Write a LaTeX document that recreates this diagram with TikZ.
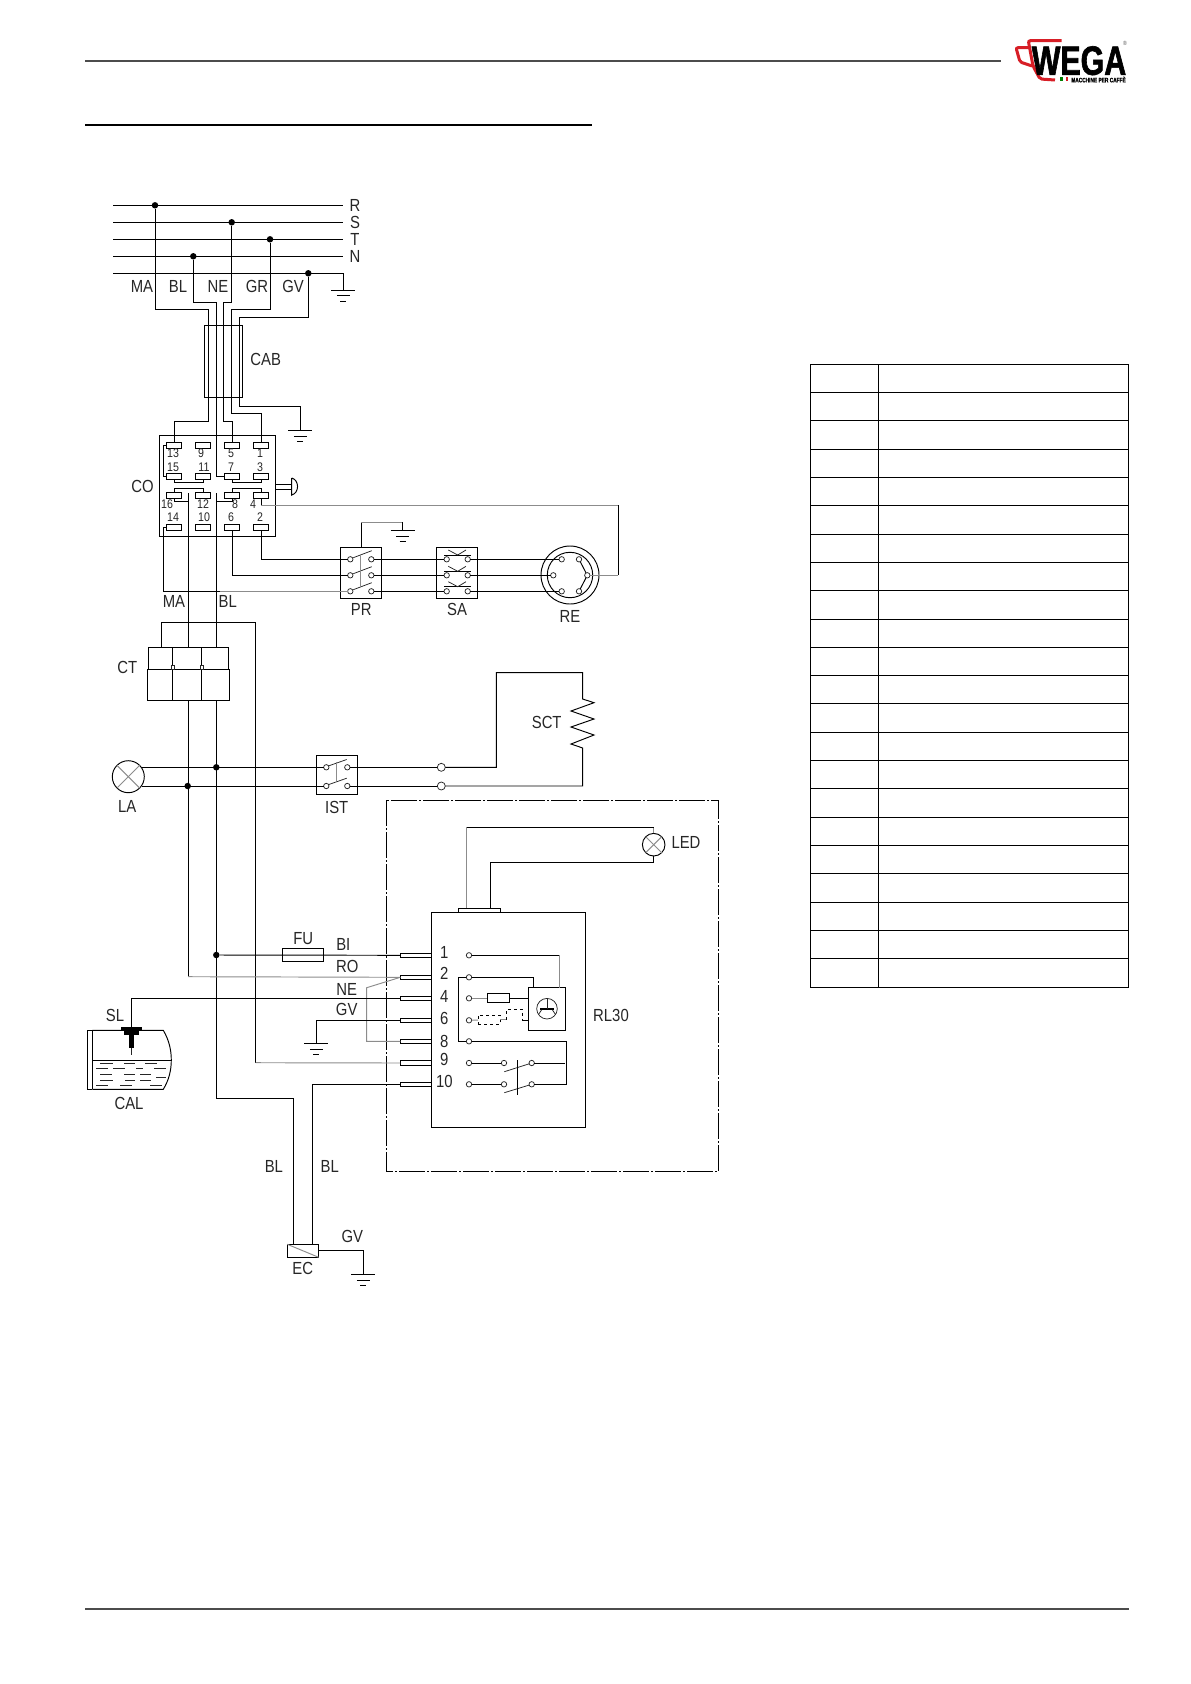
\documentclass[tikz,border=0pt]{standalone}
\usepackage{fontspec}
\setmainfont[FakeStretch=0.85]{Liberation Sans}
\newfontfamily\logofont[FakeStretch=0.74,FakeBold=1.5]{Liberation Sans}
\usetikzlibrary{calc}
\definecolor{redcup}{RGB}{215,30,38}
\tikzset{
    wire/.style={line width=0.95pt, black},
    fade/.style={line width=0.95pt, black!45},
    thin wire/.style={line width=0.75pt, black!85},
    lab/.style={inner sep=0, text=black!85, font=\fontsize{17.5}{17.5}\selectfont},
    pinnum/.style={inner sep=0, text=black!85, font=\fontsize{12.5}{12.5}\selectfont},
    box/.style={draw, wire, rectangle, inner sep=0, outer sep=0},
    pinbox/.style={box, minimum width=15pt, minimum height=6pt},
    tabbox/.style={box, minimum width=31pt, minimum height=4.5pt},
    term/.style={circle, draw, thin wire, inner sep=0, outer sep=0, minimum size=5.4pt},
    lamp/.style={circle, draw, wire, inner sep=0, outer sep=0},
    junction/.style={circle, fill=black, inner sep=0, minimum size=6.5pt},
    rule/.style={line width=1.6pt, black!70},
    panel/.style={line width=0.95pt, black, dash pattern=on 26pt off 2pt on 2pt off 2pt}
}
\begin{document}
\begin{tikzpicture}[x=1pt,y=-1pt]
    \useasboundingbox (0,0) rectangle (1191,1684);

    % Page rules
    \draw[rule] (85,61.2) -- (1001,61.2);
    \draw[rule, black, line width=1.8pt] (85,124.6) -- (591.8,124.6);
    \draw[rule] (85,1609) -- (1128.7,1609);

    % Logo
    \draw[redcup, line width=3pt, rounded corners=2pt] (1061.7,40.7) -- (1028.3,40.7) -- (1033,66) -- (1040,79) -- (1055,80);
    \draw[redcup, line width=3pt, rounded corners=2pt] (1029,47.7) -- (1016,47.7) -- (1020,62) -- (1032,66);
    \node[inner sep=0, text depth=0pt, font=\logofont\bfseries\fontsize{41}{41}\selectfont] (wega) at (1079,60.5) {WEGA};
    \node[inner sep=0, font=\logofont\bfseries\fontsize{6.5}{7}\selectfont] (macchine) at (1098.5,79.5) {MACCHINE PER CAFFÈ};
    \node[inner sep=0, text=black!70, font=\fontsize{6}{6}\selectfont] (regmark) at (1125,43.5) {®};
    \fill[green!50!black] (1059.5,77) rectangle (1062.5,80.5);
    \fill[redcup] (1065.5,77) rectangle (1068,80.5);

    % Table
    \draw[wire] (810.3,364.3) rectangle (1128.7,987);
    \draw[wire] (878.3,364.3) -- (878.3,987);
    \foreach \r in {1,...,21}
        \draw[wire] (810.3,364.3+\r*28.3) -- (1128.7,364.3+\r*28.3);

    % Bus lines with their junctions
    \node[junction] (dotR) at (155,205.3) {};
    \node[junction] (dotS) at (231.7,222.3) {};
    \node[junction] (dotT) at (270,239.3) {};
    \node[junction] (dotN) at (193.3,256.3) {};
    \node[junction] (dotG) at (308.3,273.3) {};
    \foreach \name/\y in {R/205.3,S/222.3,T/239.3,N/256.3} {
        \draw[wire] (113,\y) -- (343,\y);
        \node[lab] (lab\name) at (355,\y) {\name};
    }
    \coordinate (gndA) at (343.3,290);
    \draw[wire] (113,273.3) -- (343.3,273.3) -- (gndA);
    \node[lab] (labMA) at (142,286.7) {MA};
    \node[lab] (labBL) at (178,286.7) {BL};
    \node[lab] (labNE) at (218,286.7) {NE};
    \node[lab] (labGR) at (257,286.7) {GR};
    \node[lab] (labGV) at (293,286.7) {GV};

    % Cable gland
    \node[box, minimum width=38.4pt, minimum height=72.4pt] (cab) at (223.5,361.5) {};
    \node[lab] (labCAB) at (265.7,359) {CAB};

    % Contactor block
    \node[box, minimum width=116.4pt, minimum height=101pt] (co) at (217.5,485.8) {};
    \node[lab] (labCO) at (142.5,486) {CO};
    \foreach \n/\x/\y in {13/174/445.3,9/203/445.3,5/232/445.3,1/261/445.3,
                          15/174/476.3,11/203/476.3,7/232/476.3,3/261/476.3,
                          16/174/495.3,12/203/495.3,8/232/495.3,4/261/495.3,
                          14/174/527.3,10/203/527.3,6/232/527.3,2/261/527.3}
        \node[pinbox] (p\n) at (\x,\y) {};
    \foreach \n/\x/\y in {13/173/453.3,9/201/453.3,5/231/453.3,1/260/453.3,
                          15/173/467,11/204/467,7/231/467,3/260/467,
                          16/167/504,12/203/504,8/235/504,4/253/504,
                          14/173/517,10/204/517,6/231/517,2/260/517}
        \node[pinnum] (num\n) at (\x,\y) {\n};

    % Links inside the block
    \draw[wire] (p13.west) -| (163.3,476.3) -- (p15.west);
    \draw[wire] (p15.south) -- ++(0,3.5) -| (p11.south);
    \draw[wire] (p7.south) -- ++(0,3.5) -| (p3.south);
    \draw[wire] (p16.north) -- ++(0,-3.5) -| (p12.north);
    \draw[wire] (p8.north) -- ++(0,-3.5) -| (p4.north);

    % Push button on the block
    \draw[wire] (co.east|-0,484.7) -- (291.7,484.7);
    \draw[wire] (co.east|-0,489.3) -- (291.7,489.3);
    \draw[wire] (291.7,478) -- (291.7,495) .. controls (299.5,493) and (299.5,480) .. (291.7,478);

    % Mains wires into the block
    \draw[wire] (dotR) |- (208.7,309.3) |- (174,421) -- (p13.north);
    \draw[wire] (dotN) |- (216.7,302.3) |- (p7.west);
    \draw[wire] (dotS) |- (223.3,302.3) |- (232,421) -- (p5.north);
    \draw[wire] (dotT) |- (231.3,309.3) |- (261,413.3) -- (p1.north);
    \coordinate (gndB) at (300.3,430.3);
    \draw[wire] (dotG) |- (239,317) |- (300.3,406.3) -- (gndB);

    % Pressure switch, selector and heater plug
    \node[box, minimum width=41.4pt, minimum height=51.4pt] (pr) at (361,573) {};
    \node[box, minimum width=41.4pt, minimum height=51.4pt] (sa) at (457,573) {};
    \node[lab] (labPR) at (361.3,609) {PR};
    \node[lab] (labSA) at (457,609) {SA};
    \foreach \n/\y in {1/559.3,2/575.3,3/591.3} {
        \node[term] (prL\n) at (350.3,\y) {};
        \node[term] (prR\n) at (371.3,\y) {};
        \node[term] (saL\n) at (446.7,\y) {};
        \node[term] (saR\n) at (467.7,\y) {};
        \draw[thin wire] (353.3,\y-1.6) -- (371.7,\y-8.6);
        \draw[wire] (prR\n) -- (saL\n);
    }
    \foreach \y in {555,571.3,586.7} {
        \draw[wire] (444,\y) -- (470.7,\y);
        \draw[thin wire] (448.3,\y-5) -- (457.7,\y) -- (466,\y-5);
    }
    \draw[fade] (360.7,555) -- (360.7,586.7);
    \coordinate (gndC) at (402.7,530.3);
    \draw[wire] (361.3,547.3) -- (361.3,522.3);
    \draw[fade] (361.3,522.3) -- (402.7,522.3);
    \draw[wire] (402.7,522.3) -- (gndC);

    \node[lamp, minimum size=58pt] (re) at (570,575) {};
    \draw[wire] (re) circle[radius=22.7pt];
    \node[lab] (labRE) at (570,616) {RE};
    \node[term] (reA) at (561.7,559.3) {};
    \node[term] (reB) at (579,559.3) {};
    \node[term] (reC) at (553.3,575.3) {};
    \node[term] (reD) at (587.3,575.3) {};
    \node[term] (reE) at (561.7,591.3) {};
    \node[term] (reF) at (579,591.3) {};
    \draw[wire] (reB) -- (reD) -- (reF);
    \draw[wire] (saR1) -- (reA);
    \draw[wire] (saR2) -- (reC);
    \draw[wire] (saR3) -- (reE);

    % Wires leaving the block
    \draw[wire] (p2.south) |- (prL1);
    \draw[wire] (p6.south) |- (prL2);
    \coordinate (maEnd) at (220,591.3);
    \draw[wire] (p14.west) -| (163.3,591.3) -- (maEnd);
    \draw[fade] (maEnd) -- (prL3);
    \coordinate (neA) at (261,505);
    \coordinate (neB) at (618.3,505);
    \coordinate (neC) at (618.3,575.3);
    \draw[wire] (p4.south) -- (neA);
    \draw[fade] (neA) -- (neB);
    \draw[wire] (neB) -- (neC);
    \draw[fade] (neC) -- (reD);
    \node[lab] (labMAb) at (174,601) {MA};
    \node[lab] (labBLb) at (227.7,601) {BL};
    \draw[wire] (p16.south) |- (188.3,501.3);
    \draw[wire] (p8.south) |- (216.3,501.3);

    % Power contactor
    \node[box, minimum width=80pt, minimum height=22pt] (ctTop) at (188.3,658.3) {};
    \node[box, minimum width=82pt, minimum height=31pt] (ctLow) at (188.3,684.8) {};
    \node[lab] (labCT) at (127.3,667.7) {CT};
    \draw[wire] (172.3,647.3) -- (172.3,700.3);
    \draw[wire] (201.3,647.3) -- (201.3,700.3);
    \draw[thin wire, fill=white] (171,665.3) rectangle (174.5,669);
    \draw[thin wire, fill=white] (200,665.3) rectangle (203.5,669);
    \draw[wire] (188.3,493.3) -- (188.3,647.3);
    \draw[wire] (216.3,493.3) -- (216.3,647.3);
    \coordinate (feedA) at (161.7,647.3);
    \coordinate (feedB) at (255.5,1062.7);
    \draw[wire] (feedA) |- (255.5,622.3) -- (feedB);

    % Lamp, switch and boiler element
    \node[lamp, minimum size=32pt] (la) at (128.3,776.7) {};
    \draw[fade] (la.north west) -- (la.south east);
    \draw[fade] (la.north east) -- (la.south west);
    \node[lab] (labLA) at (127.3,806) {LA};
    \node[box, minimum width=41.4pt, minimum height=39pt] (ist) at (337,774.8) {};
    \node[lab] (labIST) at (336.7,807.7) {IST};
    \foreach \n/\y in {1/767.3,2/786} {
        \node[term] (istL\n) at (326.3,\y) {};
        \node[term] (istR\n) at (347.3,\y) {};
        \node[term, minimum size=8pt] (stud\n) at (441.3,\y) {};
        \draw[thin wire] (328.3,\y-1.3) -- (346.7,\y-7.8);
        \draw[wire] (istR\n) -- (stud\n);
    }
    \draw[fade] (336.7,762) -- (336.7,781);
    \coordinate (laA) at (142,767.3);
    \coordinate (laB) at (142,786);
    \draw[wire] (laA) -- (istL1);
    \draw[wire] (laB) -- (istL2);
    \node[junction] (dotLA) at (216.3,767.3) {};
    \node[junction] (dotLB) at (187.7,786) {};
    \draw[wire] (stud1) -| (496.3,672.7) -| (582.7,699)
        -- (594,702.7) -- (571,711) -- (594,719) -- (571,727) -- (594,735) -- (571,744) -- (582.7,748)
        |- (stud2);
    \node[lab] (labSCT) at (546.7,722.7) {SCT};

    % Control panel outline
    \draw[panel] (386.3,800.3) rectangle (718.7,1171.3);

    % RL30 board
    \node[box, minimum width=154pt, minimum height=215pt] (rl) at (508.3,1019.8) {};
    \node[lab] (labRL) at (611,1015) {RL30};
    \node[box, minimum width=42pt, minimum height=4.3pt] (rlTab) at (479.3,910.2) {};
    \foreach \n/\y/\ny in {1/955.3/952.7,2/977.3/973.7,4/998.3/996.3,6/1020.3/1018.7,8/1041.3/1041,9/1063/1059,10/1084.3/1081} {
        \node[tabbox] (tab\n) at (415.8,\y) {};
        \node[term] (rl\n) at (469,\y) {};
        \node[lab] (pos\n) at (444.3,\ny) {\n};
    }

    % LED
    \node[lamp, minimum size=22.6pt] (led) at (653.7,844.7) {};
    \draw[fade] (led.north west) -- (led.south east);
    \draw[fade] (led.north east) -- (led.south west);
    \node[lab] (labLED) at (686,842.7) {LED};
    \coordinate (ledA) at (653.7,827.3);
    \coordinate (ledB) at (466.7,827.3);
    \draw[fade] (led.north) -- (ledA);
    \draw[wire] (ledA) -- (ledB);
    \draw[fade] (ledB) -- (ledB|-rlTab.north);
    \draw[wire] (led.south) |- (490.3,862.3) -- (490.3,908);

    % Inside the board
    \node[box, minimum width=37pt, minimum height=42.6pt] (timer) at (546.8,1009) {};
    \node[lamp, thin wire, minimum size=20.6pt] (dial) at (547,1008.7) {};
    \draw[wire, line width=2pt] (540.3,1008.7) -- (553.7,1008.7);
    \draw[thin wire] (dial.north) -- (547,1008.7);
    \draw[thin wire] (541.5,1010) -- (538.5,1014.5);
    \draw[thin wire] (552.5,1010) -- (555.5,1014.5);
    \coordinate (tmrIn) at (559.3,955.3);
    \draw[wire] (rl1) -- (tmrIn);
    \draw[fade] (tmrIn) -- (tmrIn|-timer.north);
    \draw[wire] (rl2) -| (timer.north-|533.3,0);
    \draw[wire] (rl2) -| (458.3,1041.3) -- (rl8);
    \node[box, minimum width=22.4pt, minimum height=9pt] (res) at (498.5,998.3) {};
    \node[box, dashed, minimum width=22pt, minimum height=9pt] (resd) at (489,1019.8) {};
    \draw[fade] (rl4) -- (res);
    \draw[wire] (res) -- (res-|timer.west);
    \draw[fade] (rl6) -- (resd);
    \draw[fade] (resd.east) -- (506.3,1019.8);
    \draw[wire, dashed] (506.3,1019.8) |- (522.3,1009.3) -- (522.3,1020.3);
    \draw[wire] (522.3,1020.3) -- (528.3,1020.3);
    \node[term] (swAL) at (504,1063) {};
    \node[term] (swAR) at (531.7,1063) {};
    \node[term] (swBL) at (504,1084.3) {};
    \node[term] (swBR) at (531.7,1084.3) {};
    \draw[wire] (rl9) -- (swAL);
    \draw[wire] (rl10) -- (swBL);
    \draw[wire] (swAR) -- (564.7,1063);
    \draw[wire] (rl8) -| (566.3,1084.3) -- (swBR);
    \draw[thin wire] (504.3,1071.7) -- (swAR);
    \draw[thin wire] (504.3,1092.7) -- (swBR);
    \draw[wire] (517.3,1060) -- (517.3,1095);

    % Wires into the board
    \draw[wire] (188,700.3) -- (188,976.7);
    \draw[wire] (216.3,700.3) -- (216.3,1098.3) -| (293.3,1244.3);
    \draw[wire] (laA) -- (dotLA);
    \node[box, minimum width=41pt, minimum height=12.6pt] (fu) at (302.8,955) {};
    \node[lab] (labFU) at (303.3,939) {FU};
    \node[junction] (dotC) at (216.3,955) {};
    \draw[wire] (dotC) -- (tab1.west);
    \coordinate (roCorner) at (188,976.7);
    \draw[fade] (roCorner) -- (tab2.west);
    \draw[fade] (tab2.west) -- (366.7,987.7) |- (tab8.west);
    \node[lab] (labBI) at (343.3,944.7) {BI};
    \node[lab] (labRO) at (347.3,966.7) {RO};
    \node[lab] (labNEb) at (346.7,989) {NE};
    \node[lab] (labGVb) at (346.7,1009.3) {GV};
    \coordinate (sensor) at (131.3,1027);
    \draw[wire] (sensor) |- (tab4.west);
    \coordinate (gndD) at (316.3,1043.3);
    \draw[wire] (gndD) |- (tab6.west);
    \draw[fade] (feedB) -- (tab9.west);

    % Softener tank
    \draw[wire] (92.3,1030.3) -- (87.3,1030.3) -- (87.3,1089.3) -- (92.3,1089.3);
    \draw[wire] (92.3,1030.3) -- (92.3,1089.3);
    \draw[wire] (92.3,1030.3) -- (163.3,1030.3) .. controls (169,1040) and (171.3,1050) .. (171.3,1060)
        .. controls (171.3,1070) and (169,1080) .. (163.3,1089.3) -- (92.3,1089.3);
    \draw[wire] (92.3,1060.3) -- (171.3,1060.3);
    \foreach \y/\a/\b in {1063.3/100/112.7,1063.3/124.3/135,1063.3/145/156.7,
                          1068.3/96/108.3,1068.3/113.3/125,1068.3/136/143.3,1068.3/154/166,
                          1074/100/111.7,1074/124.3/135,1074/140/151,
                          1077.3/156/166,
                          1080.3/100/113.3,1080.3/125/135,1080.3/140/151,
                          1085.7/96/108.3,1085.7/120/131.7,1085.7/150/161.7}
        \draw[thin wire] (\a,\y) -- (\b,\y);
    \fill[black] (121,1027) rectangle (142,1030.8);
    \fill[black] (124,1030.3) rectangle (139,1035);
    \fill[black] (129,1035) rectangle (133.7,1048);
    \draw[thin wire] (131.3,1048) -- (131.3,1055);
    \node[lab] (labSL) at (115,1015.7) {SL};
    \node[lab] (labCAL) at (129,1103.3) {CAL};

    % Solenoid valve
    \node[box, minimum width=31.4pt, minimum height=13pt] (ec) at (303,1250.8) {};
    \draw[fade] (ec.north west) -- (ec.south east);
    \node[lab] (labEC) at (302.7,1268.7) {EC};
    \node[lab] (labGVc) at (352.3,1236.7) {GV};
    \node[lab] (labBLc) at (273.9,1166.4) {BL};
    \node[lab] (labBLd) at (329.7,1166.4) {BL};
    \coordinate (ecB) at (312.7,1244.3);
    \draw[wire] (ecB) |- (tab10.west);
    \coordinate (gndE) at (363.3,1274.3);
    \draw[wire] (ec.east) -| (gndE);

    % Ground symbols
    \foreach \g in {gndA,gndB,gndC,gndD,gndE} {
        \draw[wire] ($(\g)+(-12,0)$) -- ($(\g)+(12,0)$);
        \draw[wire] ($(\g)+(-6.5,5.7)$) -- ($(\g)+(6.5,5.7)$);
        \draw[wire] ($(\g)+(-3,11)$) -- ($(\g)+(3,11)$);
    }
\end{tikzpicture}
\end{document}
